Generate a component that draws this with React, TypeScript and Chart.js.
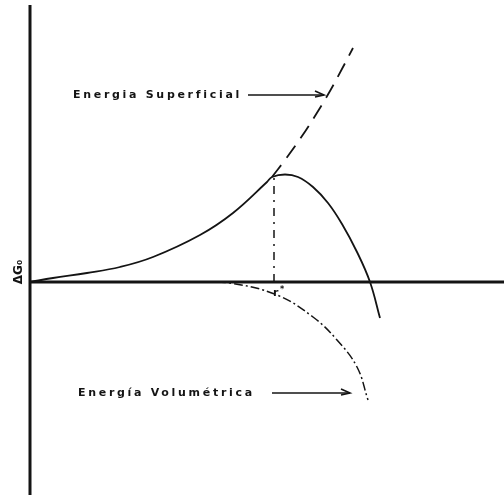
import React, { useEffect, useRef } from "react";
import { Chart, registerables } from "chart.js";

Chart.register(...registerables);

// data space: r (x) and ΔG (y)
const axisX = [0, 47.4];
const axisY = [-21.3, 27.7];

const totalR = [0, 2.3, 5.7, 9, 12.3, 17, 20.3, 23.7, 24.2, 25.5, 26.8, 28.3, 29.8, 31.2, 32.7, 34, 35];
const totalG = [0, 0.4, 0.9, 1.5, 2.5, 4.7, 6.9, 10, 10.5, 10.75, 10.5, 9.5, 7.9, 5.8, 3.0, 0, -3.6];

const surfR = [24.2, 25.5, 27, 28.5, 30, 31.3, 32.3];
const surfG = [10.5, 12.2, 14.3, 16.6, 19.1, 21.5, 23.4];

const volR = [17, 20, 24.7, 28.3, 30.7, 32.7, 33.8];
const volG = [0, -0.1, -1.3, -3.5, -5.8, -8.5, -11.8];

const rStar = 24.4;
const gStar = 10.5;

const labelSurf = "Energia Superficial";
const labelVol = "Energía Volumétrica";
const labelG = "ΔG₀";

const pts = (xs: number[], ys: number[]) => xs.map((x, i) => ({ x, y: ys[i] }));

const INK = "#141414";

const textPlugin = {
  id: "texts",
  afterDatasetsDraw(chart: any) {
    const ctx = chart.ctx as CanvasRenderingContext2D;
    const xs = chart.scales.x;
    const ys = chart.scales.y;
    const px = (v: number) => xs.getPixelForValue(v);
    const py = (v: number) => ys.getPixelForValue(v);
    ctx.save();
    ctx.fillStyle = INK;
    ctx.strokeStyle = INK;
    ctx.textBaseline = "middle";
    ctx.font = "bold 11px 'DejaVu Sans', Arial, sans-serif";
    (ctx as any).letterSpacing = "2.7px";
    ctx.fillText(labelSurf, px(4.3), py(18.7));
    ctx.fillText(labelVol, px(4.8), py(-11.1));
    (ctx as any).letterSpacing = "0px";

    const arrow = (x1: number, x2: number, y: number) => {
      ctx.lineWidth = 1.6;
      ctx.beginPath();
      ctx.moveTo(x1, y);
      ctx.lineTo(x2, y);
      ctx.stroke();
      ctx.beginPath();
      ctx.moveTo(x2 - 9, y - 4);
      ctx.lineTo(x2, y);
      ctx.lineTo(x2 - 9, y + 2);
      ctx.stroke();
    };
    arrow(px(21.8), px(29.4), py(18.7));
    arrow(px(24.2), px(32.0), py(-11.1));

    ctx.font = "bold 11px 'DejaVu Sans', Arial, sans-serif";
    ctx.fillText("r", px(rStar) - 1, py(-1.1));
    ctx.font = "bold 8px 'DejaVu Sans', Arial, sans-serif";
    ctx.fillText("*", px(rStar) + 6, py(-0.8));

    ctx.save();
    ctx.translate(px(0) - 11, py(0) - 10);
    ctx.rotate(-Math.PI / 2);
    ctx.textAlign = "center";
    ctx.font = "bold 12px 'DejaVu Sans', Arial, sans-serif";
    ctx.fillText(labelG, 0, 0);
    ctx.restore();
    ctx.restore();
  },
};

export default function App() {
  const ref = useRef<HTMLCanvasElement | null>(null);
  useEffect(() => {
    if (!ref.current) return;
    const base = { borderColor: INK, pointRadius: 0, clip: false as const };
    const chart = new Chart(ref.current, {
      type: "line",
      data: {
        datasets: [
          { ...base, data: pts([axisX[0], axisX[1]], [0, 0]), borderWidth: 3 },
          { ...base, data: pts([0, 0], [axisY[0], axisY[1]]), borderWidth: 3 },
          {
            ...base,
            data: pts(totalR, totalG),
            borderWidth: 1.8,
            tension: 0.4,
          },
          {
            ...base,
            data: pts(surfR, surfG),
            borderWidth: 1.8,
            borderDash: [15, 9],
            tension: 0.4,
          },
          {
            ...base,
            data: pts(volR, volG),
            borderWidth: 1.5,
            borderDash: [9, 3, 2, 3],
            tension: 0.4,
          },
          {
            ...base,
            data: pts([rStar, rStar], [0, gStar]),
            borderWidth: 1.5,
            borderDash: [8, 6, 2, 6],
          },
        ],
      },
      options: {
        responsive: false,
        animation: false,
        layout: { padding: { left: 30, right: 0, top: 5, bottom: 0 } },
        plugins: { legend: { display: false }, tooltip: { enabled: false } },
        scales: {
          x: { type: "linear", min: axisX[0], max: axisX[1], display: false },
          y: { type: "linear", min: axisY[0], max: axisY[1], display: false },
        },
      },
      plugins: [textPlugin],
    } as any);
    return () => chart.destroy();
  }, []);
  return (
    <div style={{ position: "fixed", left: 0, top: 0, width: 504, height: 495, background: "#fff" }}>
      <canvas ref={ref} width={504} height={495} />
    </div>
  );
}
